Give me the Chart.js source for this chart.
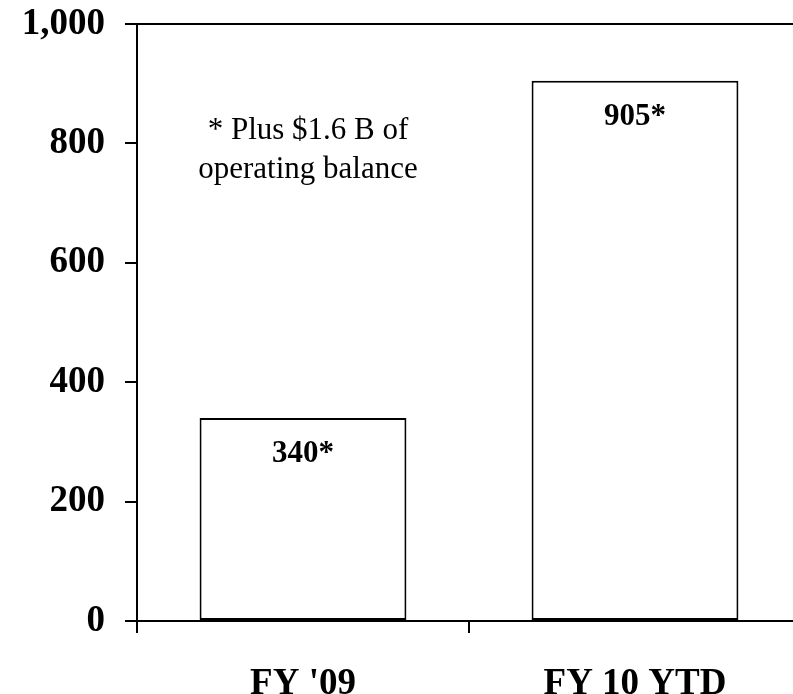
<!DOCTYPE html>
<html>
<head>
<meta charset="utf-8">
<script src="https://cdn.jsdelivr.net/npm/chart.js@4"></script>
<style>
  html, body { margin: 0; padding: 0; background: #fff; overflow: hidden; width: 793px; height: 694px; }
  #wrap { position: absolute; left: 0; top: 0; width: 801px; height: 694px; }
</style>
</head>
<body>
<div id="wrap"><canvas id="chart"></canvas></div>
<script>
// Fiscal-year totals
const categories = ["FY '09", "FY 10 YTD"];
const totals = [340, 905];
const yTickValues = [0, 200, 400, 600, 800, 1000];
const yTickLabels = ["0", "200", "400", "600", "800", "1,000"];
const noteLines = ["* Plus $1.6 B of", "operating balance"];

const SERIF = "'Liberation Serif', 'Times New Roman', serif";

// Value labels just inside the top of each bar, plus the footnote text
const barLabels = {
  id: 'barLabels',
  afterDatasetsDraw(chart) {
    const ctx = chart.ctx;
    const meta = chart.getDatasetMeta(0);
    ctx.save();
    ctx.fillStyle = '#000';
    ctx.textAlign = 'center';
    ctx.textBaseline = 'alphabetic';
    ctx.font = 'bold 31px ' + SERIF;
    meta.data.forEach((bar, i) => {
      ctx.fillText(totals[i] + '*', bar.x, bar.y + 44);
    });
    // footnote in the empty area above the first bar
    const xs = chart.scales.x, ys = chart.scales.y;
    ctx.font = '31px ' + SERIF;
    const cx = xs.getPixelForValue(0) + 5;
    const y0 = ys.getPixelForValue(808);
    noteLines.forEach((line, k) => ctx.fillText(line, cx, y0 + k * 39));
    ctx.restore();
  }
};

new Chart(document.getElementById('chart'), {
  type: 'bar',
  data: {
    labels: categories,
    datasets: [{
      data: totals,
      backgroundColor: '#ffffff',
      borderColor: '#000000',
      borderWidth: 2,
      borderSkipped: false,
      categoryPercentage: 1,
      barPercentage: 0.623
    }]
  },
  options: {
    responsive: true,
    maintainAspectRatio: false,
    animation: false,
    devicePixelRatio: 1,
    layout: { padding: { top: 24, left: 0, right: 0, bottom: 0 } },
    plugins: { legend: { display: false }, tooltip: { enabled: false } },
    scales: {
      x: {
        offset: true,
        grid: {
          offset: true,
          drawOnChartArea: false,
          color: '#000',
          tickColor: '#000',
          tickLength: 12,
          lineWidth: 2
        },
        border: { display: true, color: '#000', width: 2 },
        ticks: {
          color: '#000',
          padding: 29,
          font: { family: SERIF, size: 37, weight: 'bold' }
        },
        afterFit(scale) { scale.height = 73; scale.paddingLeft = 0; scale.paddingRight = 0; }
      },
      y: {
        min: 0,
        max: 1000,
        afterBuildTicks(scale) { scale.ticks = yTickValues.map(v => ({ value: v })); },
        grid: {
          color: (c) => (c.tick && c.tick.value === 1000) ? '#000' : 'rgba(0,0,0,0)',
          tickColor: '#000',
          tickLength: 12,
          lineWidth: 2
        },
        border: { display: true, color: '#000', width: 2 },
        ticks: {
          color: '#000',
          padding: 20,
          font: { family: SERIF, size: 37, weight: 'bold' },
          callback: (v) => yTickLabels[yTickValues.indexOf(v)]
        },
        afterFit(scale) { scale.width = 137; scale.paddingTop = 0; scale.paddingBottom = 0; }
      }
    }
  },
  plugins: [barLabels]
});
</script>
</body>
</html>
